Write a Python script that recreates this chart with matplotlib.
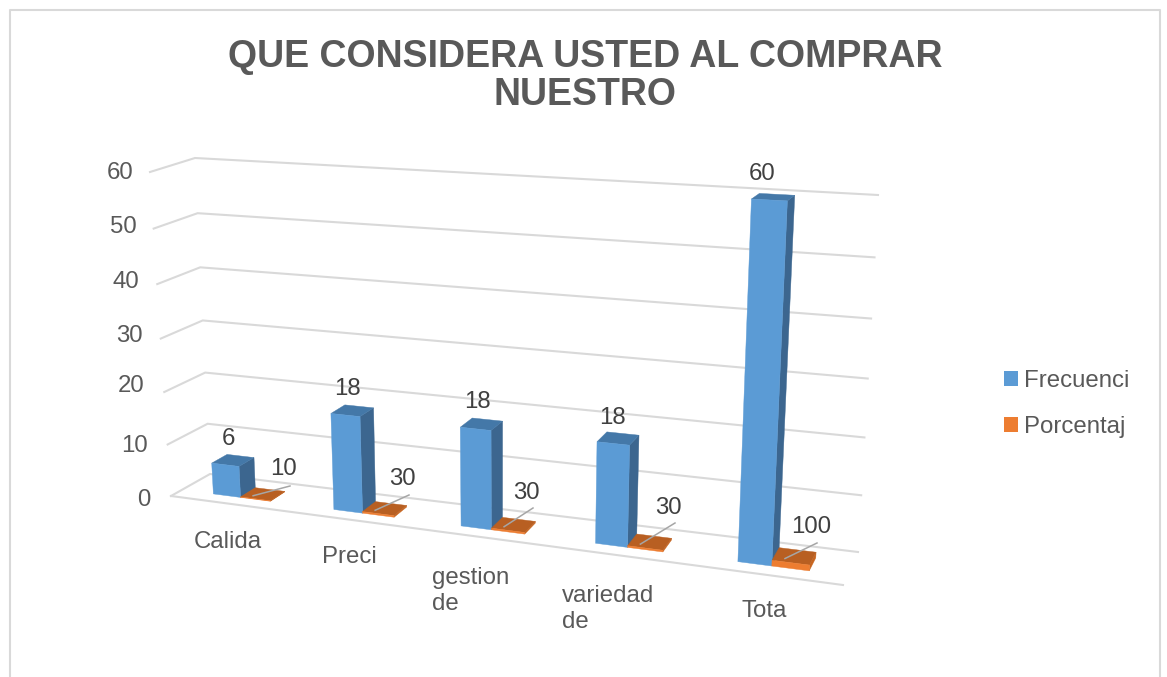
import numpy as np
import matplotlib
matplotlib.use("Agg")
import matplotlib.pyplot as plt
from matplotlib.patches import Polygon, Patch

# ---- data ----
title = "QUE CONSIDERA USTED AL COMPRAR\nNUESTRO"
categories = ["Calida", "Preci", "gestion\nde", "variedad\nde", "Tota"]
frecuencia = [6, 18, 18, 18, 60]
porcentaje = [10, 30, 30, 30, 100]
value_ticks = [0, 10, 20, 30, 40, 50, 60]
series_names = ["Frecuenci", "Porcentaj"]

# ---- layout of the fake-3D box, in figure pixels ----
W, H = 1167, 677
FLOOR_FRONT = ((171, 496), (843, 585))
FLOOR_BACK = ((210, 474), (858, 552))
TOP_FRONT = ((150, 172), (863, 209))
TOP_BACK = ((195, 158), (878, 195))
K_U, K_V = 1.15, 1.058
BAR_W, PCT_W, BAR_GAP, D0, D1 = 0.23, 0.25, 0.27, 0.28, 0.68
CAT_POS = [(194, 542), (322, 557), (432, 591), (562, 609), (741, 611)]
TICK_DY = [4, 2, -6, -3, -2, -2, 1]
FREQ_OFF = [(-12, -17), (-12, -17), (-10, -18), (-10, -16), (-15, -20)]
LEAD_END = [(290, 486), (409, 495), (533, 508), (675, 523), (817, 543)]
PCT_POS = [(284, 469), (402, 479), (526, 493), (668, 508), (811, 527)]

C_GRID = "#D9D9D9"
C_TXT = "#595959"
C_LAB = "#404040"
BLUE = ("#5B9BD5", "#4478A8", "#3C668F")
ORANGE = ("#ED7D31", "#B85F22", "#C8651F")

plt.rcParams["font.family"] = ["Liberation Sans", "DejaVu Sans"]
fig = plt.figure(figsize=(W / 100, H / 100), dpi=100, facecolor="white")
ax = fig.add_axes([0, 0, 1, 1])
ax.set_xlim(0, W)
ax.set_ylim(H, 0)
ax.axis("off")


def lerp(a, b, t):
    return np.array(a, float) * (1 - t) + np.array(b, float) * t


def persp(r, k):
    return r / (r + k * (1 - r))


def project(u, d, v):
    """category position u (0..5), depth d (0 front..1 back), value v (0..60)"""
    s = persp(u / len(categories), K_U)
    f = persp(v / value_ticks[-1], K_V)
    base = lerp(lerp(*FLOOR_FRONT, s), lerp(*FLOOR_BACK, s), d)
    top = lerp(lerp(*TOP_FRONT, s), lerp(*TOP_BACK, s), d)
    return lerp(base, top, f)


def box(u0, u1, v, colors, z):
    front = [project(u0, D0, 0), project(u1, D0, 0), project(u1, D0, v), project(u0, D0, v)]
    top = [project(u0, D0, v), project(u1, D0, v), project(u1, D1, v), project(u0, D1, v)]
    side = [project(u1, D0, 0), project(u1, D1, 0), project(u1, D1, v), project(u1, D0, v)]
    for pts, c in ((side, colors[2]), (top, colors[1]), (front, colors[0])):
        ax.add_patch(Polygon(pts, closed=True, facecolor=c, edgecolor=c, lw=0.3, zorder=z))


# chart frame
ax.plot([10, 10, 1160, 1160], [H, 10, 10, H], color=C_GRID, lw=1.5, zorder=1)

# gridlines
n = len(categories)
for v, dy in zip(value_ticks, TICK_DY):
    a, b, c = project(0, 0, v), project(0, 1, v), project(n, 1, v)
    ax.plot([a[0], b[0], c[0]], [a[1], b[1], c[1]], color=C_GRID, lw=1.5, zorder=2,
            solid_joinstyle="miter")
    ax.text(a[0] - 21 + 5 * v / value_ticks[-1], a[1] + dy, str(v), ha="right", va="center",
            fontsize=17.3, color=C_TXT)
a, c = project(0, 0, 0), project(n, 0, 0)
ax.plot([a[0], c[0]], [a[1], c[1]], color=C_GRID, lw=1.5, zorder=2)

# bars and labels
for i, (fr, pc) in enumerate(zip(frecuencia, porcentaje)):
    u0 = i + BAR_GAP
    u1 = u0 + BAR_W
    u2 = u1 + PCT_W
    # the percentage series is plotted as a fraction on the value axis
    pv = pc / 100
    box(u0, u1, fr, BLUE, 3 + i)
    box(u1, u2, pv, ORANGE, 3 + i)
    p = project((u0 + u1) / 2, D1, fr)
    ax.text(p[0] + FREQ_OFF[i][0], p[1] + FREQ_OFF[i][1], str(fr), ha="center", va="center",
            fontsize=17.3, color=C_LAB, zorder=20)
    q = project((u1 + u2) / 2 - 0.05, (D0 + D1) / 2 - 0.1, pv)
    ax.plot([q[0], LEAD_END[i][0]], [q[1], LEAD_END[i][1]], color="#A6A6A6", lw=1.1, zorder=15)
    ax.text(PCT_POS[i][0], PCT_POS[i][1], str(pc), ha="center", va="center",
            fontsize=17.3, color=C_LAB, zorder=20)

# category labels
for lab, (x, y) in zip(categories, CAT_POS):
    ax.text(x, y, lab, ha="left", va="center", fontsize=17.3, color=C_TXT, linespacing=1.2)

# title
ax.text(585, 76, title, ha="center", va="center", fontsize=27, fontweight="bold",
        color=C_TXT, linespacing=1.05)

# legend
handles = [Patch(facecolor=BLUE[0], label=series_names[0]),
           Patch(facecolor=ORANGE[0], label=series_names[1])]
leg = ax.legend(handles=handles, loc="center left", bbox_to_anchor=(1004, 404),
                bbox_transform=ax.transData, frameon=False, fontsize=17.3,
                labelcolor=C_TXT, handlelength=0.6, handleheight=0.6, handletextpad=0.25,
                labelspacing=1.0, borderpad=0, borderaxespad=0)

fig.savefig("out.png", dpi=100, facecolor="white")
